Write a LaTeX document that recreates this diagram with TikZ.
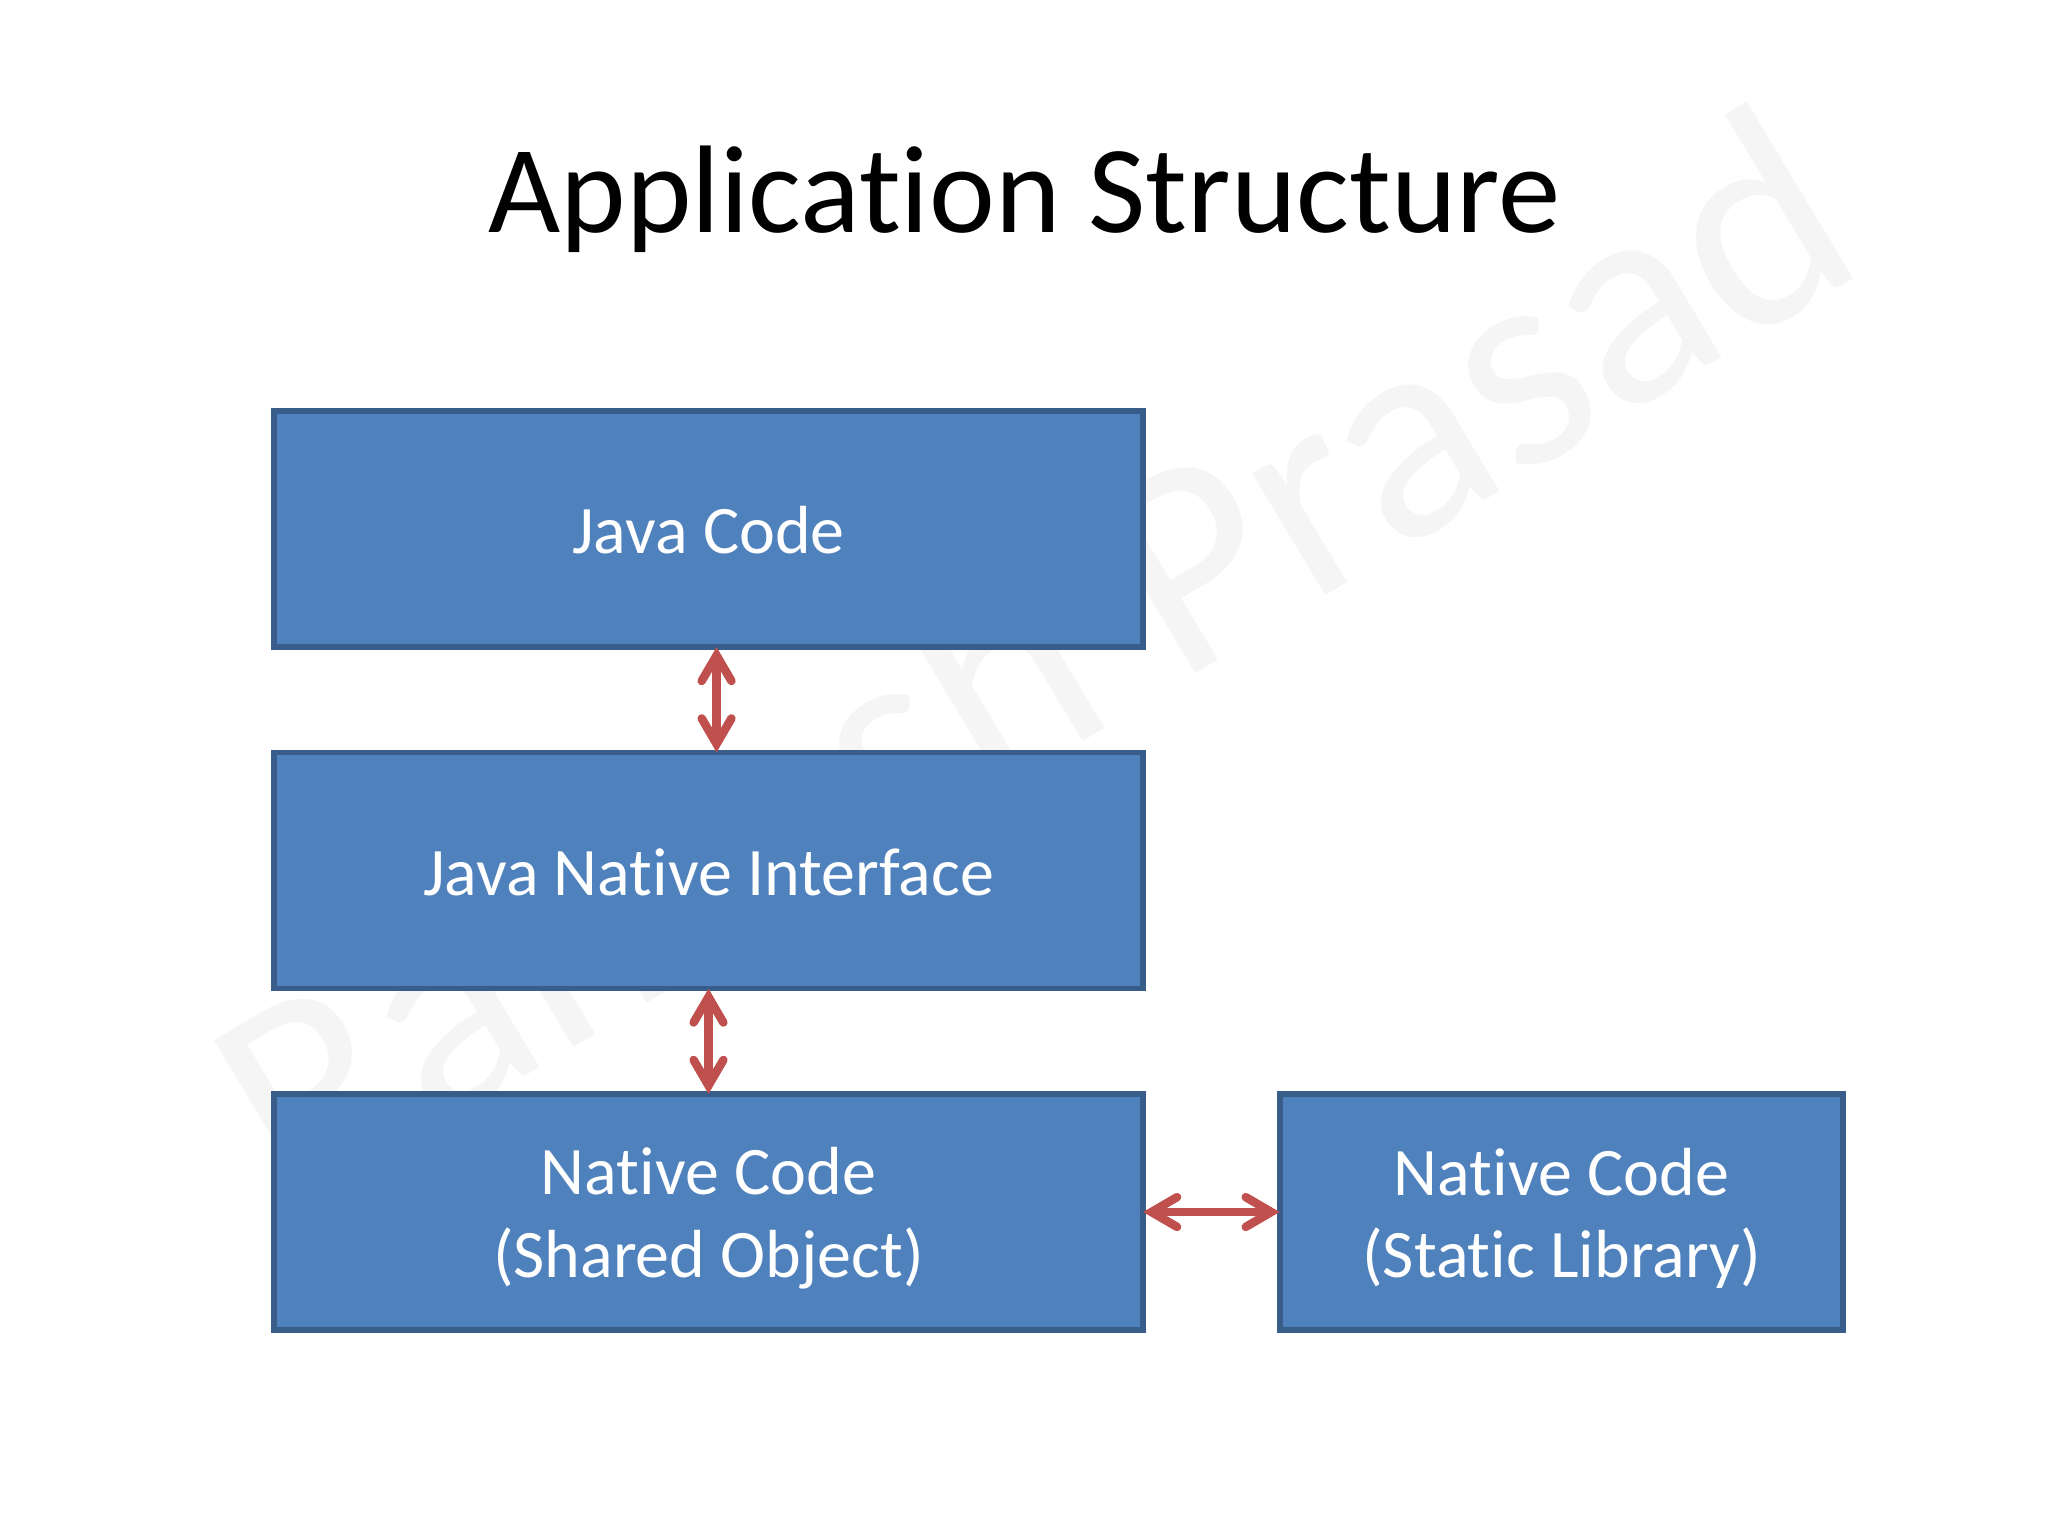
\documentclass[tikz,border=0pt]{standalone}
\usepackage{fontspec}
\setmainfont{Carlito}[Ligatures=NoCommon]
\usetikzlibrary{arrows.meta}
\definecolor{boxfill}{HTML}{4F81BD}
\definecolor{boxline}{HTML}{385D8A}
\definecolor{arrowred}{HTML}{C0504D}
\newcommand{\lift}[1]{\rule{0pt}{#1}}
\tikzset{
    codebox/.style={draw=boxline,fill=boxfill,line width=2pt,outer sep=0pt,inner sep=0pt,
        text=white,align=center,minimum height=2.93cm,font=\fontsize{24pt}{29pt}\selectfont},
    wide/.style={codebox,minimum width=10.78cm},
    narrow/.style={codebox,minimum width=6.99cm},
    barb/.tip={Straight Barb[length=9pt,width=10.5pt,line cap=round,line join=miter]},
    both/.style={line width=3pt,arrowred,{barb}-{barb}}
}
\begin{document}
\begin{tikzpicture}
    \useasboundingbox (0,0) rectangle (25.4,19.05);
    % watermark behind the boxes
    \node (mark) [text=black!4,rotate=31,font=\fontsize{105pt}{105pt}\selectfont] at (12.78,10.94) {Ramesh Prasad};
    % title
    \node (title) [anchor=base,font=\fontsize{44pt}{44pt}\selectfont] at (12.71,16.17) {Application Structure};
    % left column
    \node (java) [wide] at (8.787,12.49) {\lift{17.5pt}Java Code};
    \node (jni) [wide] at (8.787,8.254) {\lift{17.5pt}Java Native Interface};
    \node (shared) [wide] at (8.787,4.018) {\lift{21pt}Native Code\\(Shared Object)};
    % static library on the right
    \node (static) [narrow] at (19.366,4.018) {\lift{21pt}Native Code\\(Static Library)};
    % arrows
    \draw [both] ([xshift=0.1cm]java.south) -- ([xshift=0.1cm]jni.north);
    \draw [both] (jni.south) -- (shared.north);
    \draw [both] (shared.east) -- (static.west);
\end{tikzpicture}
\end{document}
